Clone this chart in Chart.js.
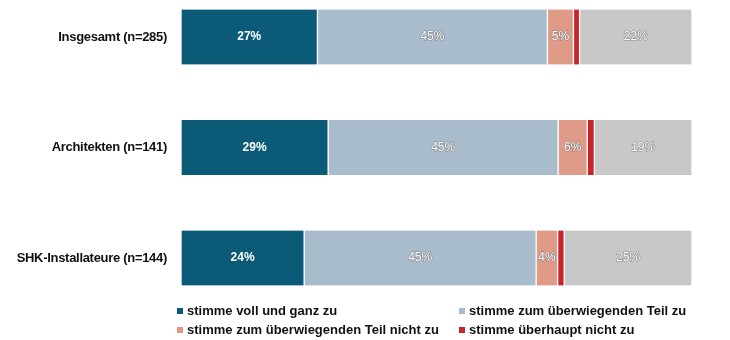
<!DOCTYPE html>
<html><head><meta charset="utf-8">
<script src="https://cdn.jsdelivr.net/npm/chart.js@4/dist/chart.umd.min.js"></script>
<style>
html,body{margin:0;padding:0;background:#fff;}
#wrap{position:relative;width:730px;height:340px;}
#legend{position:absolute;left:0;top:0;width:730px;height:340px;pointer-events:none;font-family:"Liberation Sans",Arial,sans-serif;font-weight:bold;font-size:13px;color:#111;}
.li{position:absolute;white-space:nowrap;line-height:14px;}
.li span.b{display:inline-block;width:6px;height:6px;margin-right:4px;vertical-align:1px;}
</style></head>
<body><div id="wrap"><canvas id="c" width="730" height="340"></canvas><div id="legend"></div></div>
<script>
const categories = ["Insgesamt (n=285)", "Architekten (n=141)", "SHK-Installateure (n=144)"];
const seriesNames = ["stimme voll und ganz zu", "stimme zum überwiegenden Teil zu", "stimme zum überwiegenden Teil nicht zu", "stimme überhaupt nicht zu", "weiß nicht / keine Angabe"];
const vollUndGanz = [26.7, 28.8, 24.1];
const ueberwiegendZu = [45.0, 45.0, 45.4];
const ueberwiegendNicht = [5.1, 5.7, 4.2];
const ueberhauptNicht = [1.2, 1.4, 1.3];
const keineAngabe = [22.0, 19.1, 25.0];
const valueLabels = [["27%", "29%", "24%"], ["45%", "45%", "45%"], ["5%", "6%", "4%"], ["", "", ""], ["22%", "19%", "25%"]];
const colors = ["#0b5a78", "#a8bccb", "#e09a88", "#c8262b", "#c8c8c8"];

const series = [vollUndGanz, ueberwiegendZu, ueberwiegendNicht, ueberhauptNicht, keineAngabe];
const datasets = series.map((d, i) => ({
  label: seriesNames[i], data: d, backgroundColor: colors[i],
  borderColor: "#ffffff", borderWidth: {left: 1, right: 1, top: 0, bottom: 0}, borderSkipped: false,
  barThickness: 55, clip: false
}));

const spacingPlugin = {
  id: "spacing",
  beforeDraw(chart) { chart.ctx.letterSpacing = "-0.3px"; },
  afterDatasetsDraw(chart) {
    const ctx = chart.ctx;
    ctx.save();
    ctx.letterSpacing = "0px";
    ctx.textAlign = "center"; ctx.textBaseline = "middle";
    chart.data.datasets.forEach((ds, di) => {
      const meta = chart.getDatasetMeta(di);
      meta.data.forEach((bar, j) => {
        const t = valueLabels[di][j];
        if (!t) return;
        const x = (bar.x + bar.base) / 2, y = bar.y;
        if (di === 0) {
          ctx.font = "bold 12px 'Liberation Sans', Arial, sans-serif";
          ctx.fillStyle = "#ffffff";
          ctx.fillText(t, x, y);
        } else {
          ctx.font = "12px 'Liberation Sans', Arial, sans-serif";
          ctx.lineWidth = 1.2; ctx.strokeStyle = "rgba(120,120,120,0.8)";
          ctx.strokeText(t, x, y);
          ctx.fillStyle = "#ffffff";
          ctx.fillText(t, x, y);
        }
      });
    });
    ctx.restore();
  }
};

new Chart(document.getElementById("c"), {
  type: "bar",
  data: {labels: categories, datasets},
  options: {
    indexAxis: "y", responsive: false, animation: false,
    layout: {padding: {left: 0, right: 38, top: 37, bottom: 82}},
    plugins: {legend: {display: false}, tooltip: {enabled: false}},
    scales: {
      x: {stacked: true, min: 0, max: 100, display: false},
      y: {stacked: true, offset: false, grid: {display: false}, border: {display: false},
          ticks: {padding: 6, color: "#111", font: {family: "'Liberation Sans', Arial, sans-serif", weight: "bold", size: 13}},
          afterFit(s) { s.width = 181; }}
    }
  },
  plugins: [spacingPlugin]
});

const legendPos = [[177, 304], [459, 304], [177, 323], [459, 323]];
const lg = document.getElementById("legend");
legendPos.forEach((p, i) => {
  const d = document.createElement("div");
  d.className = "li"; d.style.left = p[0] + "px"; d.style.top = p[1] + "px";
  d.innerHTML = '<span class="b" style="background:' + colors[i] + '"></span>' + seriesNames[i];
  lg.appendChild(d);
});
</script></body></html>
